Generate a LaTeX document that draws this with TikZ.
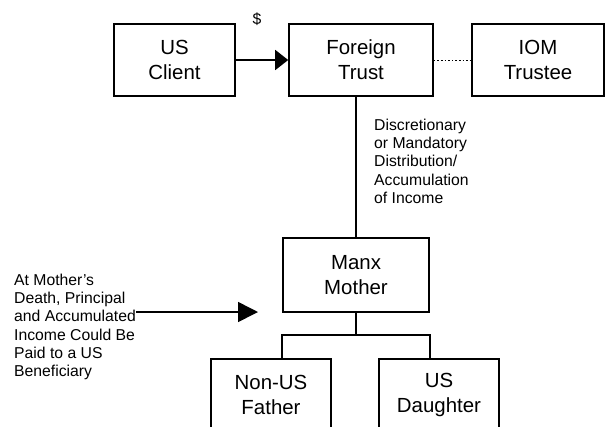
\documentclass[tikz,border=0pt]{standalone}
\usepackage{fontspec}
\setmainfont{Liberation Sans}
\usetikzlibrary{arrows.meta}
\tikzset{
  box/.style={draw, line width=1.6bp, inner sep=0pt, align=center,
    font=\fontsize{20.5}{25}\selectfont, minimum height=72bp},
  note/.style={inner sep=0pt, align=left, font=\fontsize{15.8}{18.2}\selectfont},
  conn/.style={line width=1.6bp},
  bigtip/.style={-{Triangle[length=13bp,width=20bp]}},
  bigtipb/.style={-{Triangle[length=20bp,width=20bp]}},
}
\begin{document}
\begin{tikzpicture}[x=1bp,y=-1bp]
\useasboundingbox (0,0) rectangle (605,426);
\clip (0,0) rectangle (605,426);
\node[box, minimum width=121bp] (client) at (174.5,60) {US\\Client};
\node[box, minimum width=144bp] (trust) at (361,60) {Foreign\\Trust};
\node[box, minimum width=132bp] (trustee) at (538,60) {IOM\\Trustee};
\node[box, minimum width=146bp, minimum height=74bp] (mother) at (356,275) {Manx\\Mother};
\node[box, minimum width=120bp] (father) at (271,395) {Non-US\\Father};
\node[box, minimum width=120bp] (daughter) at (439,395) {US\\Daughter};

\draw[conn, bigtip] (client.east) -- (trust.west);
\node[note] (dollar) at (257,19) {\$};
\draw[conn, dotted, line width=1bp] (trust.east) -- (trustee.west);

\draw[conn] (mother.north) -- (mother.north |- trust.south);
\node[note, anchor=north west] (dist) at (374,119) {Discretionary\\or Mandatory\\Distribution/\\Accumulation\\of Income};

\coordinate (bus) at (356,335);
\draw[conn] (mother.south) -- (bus);
\draw[conn] (mother.south west |- father.north) |- (bus) -| (mother.south east |- daughter.north);

\node[note, anchor=north west] (death) at (14,274) {At Mother’s\\Death, Principal\\and Accumulated\\Income Could Be\\Paid to a US\\Beneficiary};
\coordinate (tip) at (258,312);
\draw[conn, bigtipb] (death.east |- tip) -- (tip);
\end{tikzpicture}
\end{document}
